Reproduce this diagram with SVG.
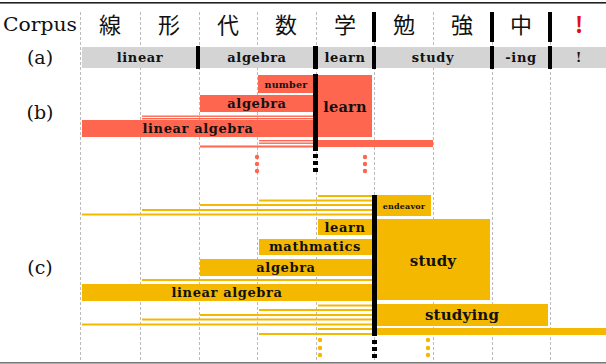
<svg xmlns="http://www.w3.org/2000/svg" width="606" height="364" viewBox="0 0 606 364">
<style>
.lab{font-family:"DejaVu Serif","Liberation Serif",serif;font-size:19px;fill:#111;text-anchor:middle}
.cj{font-family:"Noto Sans CJK JP","Noto Sans CJK SC",sans-serif;font-size:22px;fill:#111;text-anchor:middle}
.t{font-family:"DejaVu Serif","Liberation Serif",serif;font-weight:bold;fill:#111;text-anchor:middle;letter-spacing:0.6px}
.big{letter-spacing:0.2px}
.gray{fill:#d4d4d4}
.red{fill:#ff6650}
.yel{fill:#f5b800}
.blk{fill:#000}
.grid{stroke:#bcbcbc;stroke-width:1;stroke-dasharray:3 2}
</style>
<rect width="606" height="364" fill="#fff"/>
<rect x="0" y="2" width="606" height="1.6" fill="#222"/>
<rect x="0" y="362" width="606" height="1.6" fill="#777"/>

<g id="grid">
<line class="grid" x1="80.5" y1="12" x2="80.5" y2="361"/>
<line class="grid" x1="140.5" y1="12" x2="140.5" y2="361"/>
<line class="grid" x1="199.5" y1="12" x2="199.5" y2="361"/>
<line class="grid" x1="257.5" y1="12" x2="257.5" y2="361"/>
<line class="grid" x1="316.5" y1="12" x2="316.5" y2="361"/>
<line class="grid" x1="374.5" y1="12" x2="374.5" y2="361"/>
<line class="grid" x1="433.5" y1="12" x2="433.5" y2="361"/>
<line class="grid" x1="492.5" y1="12" x2="492.5" y2="361"/>
<line class="grid" x1="550.5" y1="12" x2="550.5" y2="361"/>
</g>

<g id="corpus">
<text class="lab" x="40" y="31" textLength="74" lengthAdjust="spacingAndGlyphs">Corpus</text>
<text class="cj" x="110" y="33">線</text>
<text class="cj" x="169" y="33">形</text>
<text class="cj" x="228" y="33">代</text>
<text class="cj" x="286" y="33">数</text>
<text class="cj" x="345" y="33">学</text>
<text class="cj" x="404" y="33">勉</text>
<text class="cj" x="462" y="33">強</text>
<text class="cj" x="521" y="33">中</text>
<text class="cj" x="579" y="33" style="fill:#e01010;font-weight:bold">!</text>
<rect class="blk" x="372" y="12" width="4" height="30"/>
<rect class="blk" x="490" y="12" width="4" height="30"/>
<rect class="blk" x="548" y="12" width="4" height="30"/>
</g>

<g id="row-a">
<text class="lab" x="40" y="64">(a)</text>
<rect class="gray" x="82" y="47" width="524" height="21"/>
<rect class="blk" x="196" y="46" width="4" height="23"/>
<rect class="blk" x="313" y="46" width="5" height="23"/>
<rect class="blk" x="372" y="46" width="4" height="23"/>
<rect class="blk" x="490" y="46" width="4" height="23"/>
<rect class="blk" x="548" y="46" width="4" height="23"/>
<text class="t" x="140" y="62" font-size="13">linear</text>
<text class="t" x="257" y="62" font-size="13">algebra</text>
<text class="t" x="345" y="62" font-size="13">learn</text>
<text class="t" x="433" y="62" font-size="13">study</text>
<text class="t" x="521" y="62" font-size="13">-ing</text>
<text class="t" x="579" y="62" font-size="13">!</text>
</g>

<g id="row-b">
<text class="lab" x="40" y="119">(b)</text>
<g id="b-number"><rect class="red" x="258" y="75" width="55" height="18"/><text class="t big" x="286" y="88" font-size="9.5">number</text></g>
<g id="b-algebra"><rect class="red" x="200" y="95" width="113" height="17"/><text class="t" x="257" y="108" font-size="13">algebra</text></g>
<g id="b-linear-algebra"><rect class="red" x="82" y="120" width="231" height="17"/><text class="t" x="198" y="133" font-size="13">linear algebra</text></g>
<g id="b-learn"><rect class="red" x="318" y="75" width="54" height="62"/><text class="t big" x="345" y="112" font-size="14.5">learn</text></g>
<rect class="red" x="318" y="140" width="115" height="7"/>
<rect class="blk" x="313" y="74" width="5" height="77"/>
<rect class="blk" x="313" y="154" width="5" height="4"/>
<rect class="blk" x="313" y="161" width="5" height="4"/>
<rect class="blk" x="313" y="168" width="5" height="4"/>
<g class="red">
<circle cx="257" cy="157" r="2.2"/><circle cx="257" cy="164" r="2.2"/><circle cx="257" cy="171" r="2.2"/>
<circle cx="365" cy="157" r="2.2"/><circle cx="365" cy="164" r="2.2"/><circle cx="365" cy="171" r="2.2"/>
</g>
</g>

<g id="row-c">
<text class="lab" x="40" y="274">(c)</text>
<g id="c-endeavor"><rect class="yel" x="377" y="195" width="54" height="21"/><text class="t big" x="404" y="209" font-size="8">endeavor</text></g>
<g id="c-learn"><rect class="yel" x="318" y="219" width="54" height="16"/><text class="t" x="345" y="232" font-size="13">learn</text></g>
<g id="c-study"><rect class="yel" x="377" y="219" width="113" height="81"/><text class="t big" x="433" y="266" font-size="15">study</text></g>
<g id="c-mathmatics"><rect class="yel" x="259" y="239" width="113" height="16"/><text class="t" x="315" y="251" font-size="13">mathmatics</text></g>
<g id="c-algebra"><rect class="yel" x="200" y="259" width="172" height="17"/><text class="t" x="286" y="272" font-size="13">algebra</text></g>
<g id="c-linear-algebra"><rect class="yel" x="82" y="284" width="290" height="17"/><text class="t" x="227" y="297" font-size="13">linear algebra</text></g>
<g id="c-studying"><rect class="yel" x="377" y="304" width="171" height="22"/><text class="t big" x="462" y="320" font-size="15">studying</text></g>
<rect class="yel" x="377" y="328" width="229" height="7"/>
<rect class="blk" x="372" y="195" width="5" height="141"/>
<rect class="blk" x="372" y="340" width="5" height="4"/>
<rect class="blk" x="372" y="347" width="5" height="4"/>
<rect class="blk" x="372" y="354" width="5" height="4"/>
<g class="yel">
<circle cx="320" cy="340" r="2.2"/><circle cx="320" cy="348" r="2.2"/><circle cx="320" cy="355" r="2.2"/>
<circle cx="428" cy="340" r="2.2"/><circle cx="428" cy="348" r="2.2"/><circle cx="428" cy="355" r="2.2"/>
</g>
</g>

<g id="connectors">
<g class="red">
<rect x="142" y="115.5" width="171" height="1.4"/>
<rect x="142" y="118" width="171" height="1.4"/>
<rect x="259" y="140" width="54" height="1.4"/>
<rect x="259" y="142.5" width="54" height="1.4"/>
<rect x="200" y="145.5" width="113" height="2"/>
</g>
<g class="yel">
<rect x="318" y="195" width="54" height="2"/>
<rect x="259" y="199.5" width="113" height="2"/>
<rect x="200" y="204" width="172" height="2"/>
<rect x="142" y="209" width="230" height="2"/>
<rect x="82" y="213.5" width="290" height="2"/>
<rect x="142" y="279" width="230" height="2"/>
<rect x="318" y="304.5" width="54" height="2"/>
<rect x="259" y="309" width="113" height="2"/>
<rect x="200" y="314" width="172" height="2"/>
<rect x="142" y="318.5" width="230" height="2"/>
<rect x="82" y="323.5" width="290" height="2"/>
<rect x="318" y="328" width="54" height="2"/>
<rect x="259" y="333" width="113" height="2"/>
</g>
</g>
</svg>
